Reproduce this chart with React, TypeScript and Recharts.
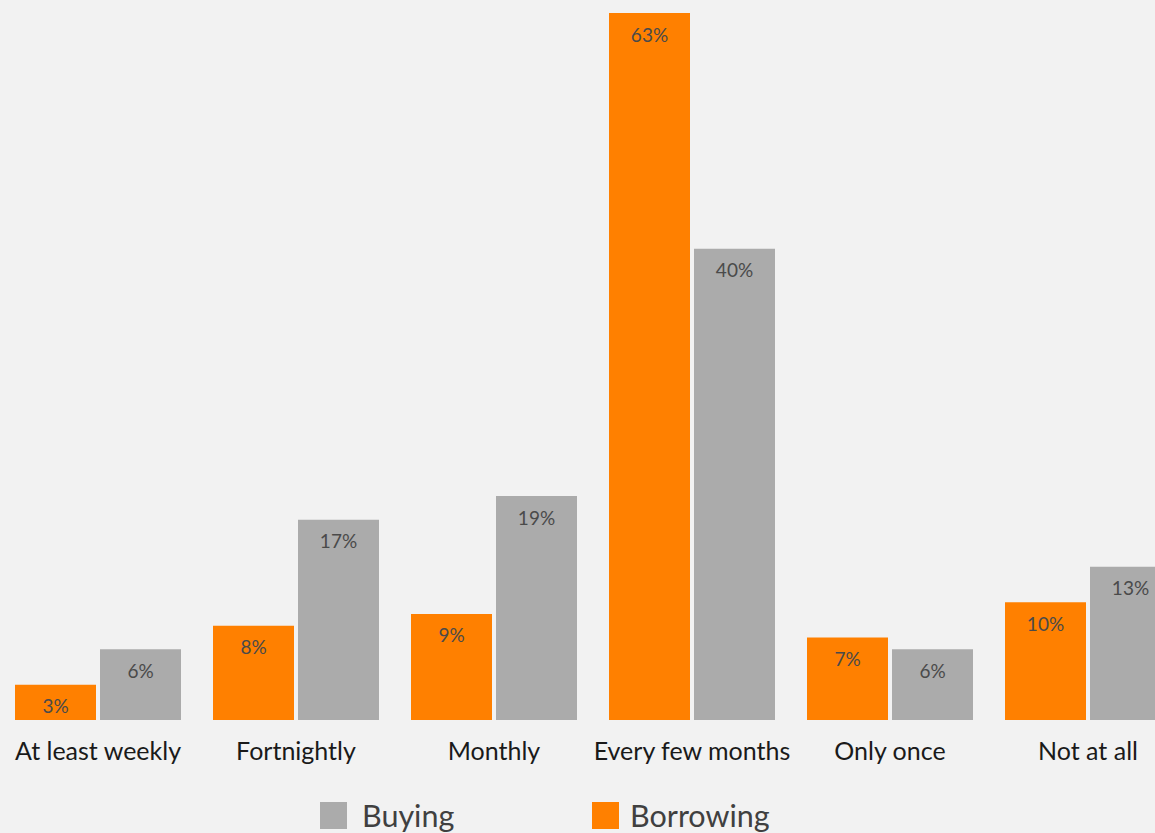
import { BarChart, Bar, XAxis, YAxis, LabelList } from 'recharts';

const categories = ['At least weekly', 'Fortnightly', 'Monthly', 'Every few months', 'Only once', 'Not at all'];
const borrowing = [3, 8, 9, 63, 7, 10];
const buying = [6, 17, 19, 40, 6, 13];
const seriesNames = { borrowing: 'Borrowing', buying: 'Buying' };

const ORANGE = '#ff8000';
const GRAY = '#ababab';
const FONT = 'Lato, "Open Sans", sans-serif';
const PLOT_TOP = 13;

const data = categories.map((c, i) => ({ cat: c, borrowing: borrowing[i], buying: buying[i] }));

// label sits just under the visible top of the bar (63% bar is clipped by the plot area)
const renderLabel = (props: any) => {
  const { x, y, width, value } = props;
  const top = Math.max(Number(y), PLOT_TOP);
  return (
    <text x={Number(x) + Number(width) / 2} y={top + 21} textAnchor="middle" dominantBaseline="central"
      fontSize={19} fill="#4a4a4a" fontFamily={FONT}>
      {`${value}%`}
    </text>
  );
};

const legendItems = [
  { name: seriesNames.buying, color: GRAY, box: 320, text: 362 },
  { name: seriesNames.borrowing, color: ORANGE, box: 592, text: 630 },
];

export default function App() {
  return (
    <div style={{ position: 'fixed', left: 0, top: 0, width: 1155, height: 833, overflow: 'hidden', background: '#f2f2f2', fontFamily: FONT }}>
      <div style={{ position: 'absolute', left: -1, top: 0 }}>
        <BarChart width={1188} height={833} data={data} margin={{ top: PLOT_TOP, right: 0, left: 0, bottom: 0 }}
          barCategoryGap={16} barGap={4}>
          <XAxis dataKey="cat" axisLine={false} tickLine={false} interval={0} height={113} tickMargin={16}
            tick={{ fill: '#1a1a1a', fontSize: 25, fontFamily: FONT }} />
          <YAxis hide domain={[0, 60]} allowDataOverflow />
          <Bar dataKey="borrowing" name={seriesNames.borrowing} fill={ORANGE} isAnimationActive={false}>
            <LabelList dataKey="borrowing" content={renderLabel} />
          </Bar>
          <Bar dataKey="buying" name={seriesNames.buying} fill={GRAY} isAnimationActive={false}>
            <LabelList dataKey="buying" content={renderLabel} />
          </Bar>
        </BarChart>
      </div>
      {legendItems.map((it) => (
        <div key={it.name}>
          <div style={{ position: 'absolute', left: it.box, top: 802, width: 27, height: 27, background: it.color }} />
          <span style={{ position: 'absolute', left: it.text, top: 800, fontSize: 30.5, lineHeight: 1, color: '#404040', whiteSpace: 'nowrap' }}>
            {it.name}
          </span>
        </div>
      ))}
    </div>
  );
}
